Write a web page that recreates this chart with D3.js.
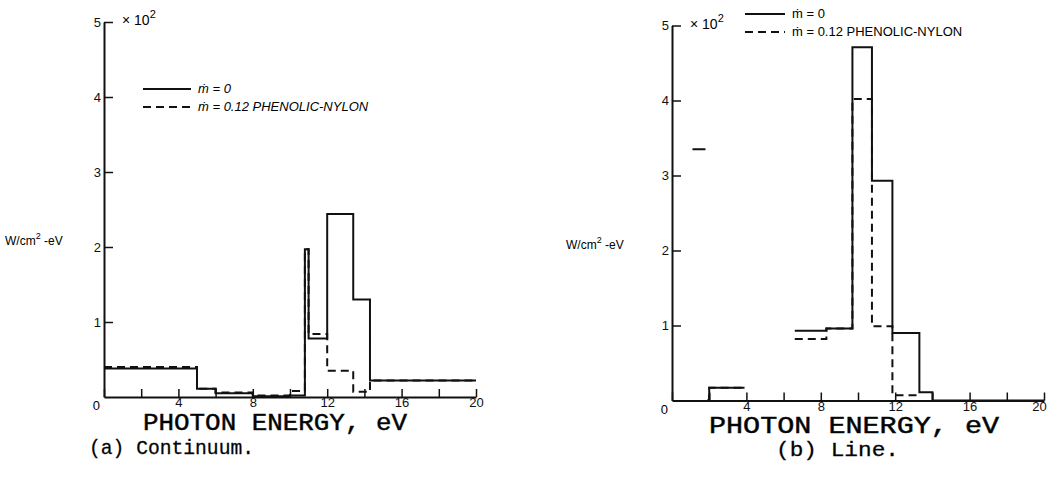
<!DOCTYPE html>
<html>
<head>
<meta charset="utf-8">
<script src="https://cdn.jsdelivr.net/npm/d3@7"></script>
<style>
  body { margin: 0; background: #fff; }
  svg { display: block; }
  .tick text { font-family: "Liberation Sans Narrow", "Liberation Sans", sans-serif; font-size: 13px; fill: #111; }
  .tick line, .domain { stroke: #111; }
</style>
</head>
<body>
<svg id="chart" width="1051" height="482"></svg>
<script>
// panel (a) continuum : bin edges (eV) and values (x 10^2 W/cm2-eV)
var edgesA = [0, 5.0, 6.0, 8.0, 10.0, 10.8, 11.0, 12.0, 13.4, 14.3, 20];
var solidA = [0.38, 0.11, 0.05, 0.01, 0.02, 1.97, 0.78, 2.44, 1.30, 0.22];
var dashA  = [0.40, 0.11, 0.06, 0.02, 0.08, 1.97, 0.84, 0.35, 0.07, 0.22];

// panel (b) line, null = no line drawn
var edgesB = [0, 1.1, 1.8, 1.9, 2.0, 3.9, 6.6, 8.3, 9.7, 10.75, 11.85, 13.3, 14.0, 20];
var solidB = [null, 3.35, null, 0, 0.17, null, 0.93, 0.96, 4.71, 2.93, 0.90, 0.11, 0];
var dashB  = [null, null, null, 0, 0.17, null, 0.82, 0.96, 4.02, 0.99, 0.07, null, null];

var xTicks = [0, 2, 4, 6, 8, 10, 12, 14, 16, 18, 20];
var yTicks = [1, 2, 3, 4, 5];
var legendLabels = ["\u1E41 = 0", "\u1E41 = 0.12 PHENOLIC-NYLON"];

var svg = d3.select("#chart");
var sans = "'Liberation Sans Narrow', 'Liberation Sans', sans-serif";
var mono = "'Courier New', 'Liberation Mono', monospace";

function stepPath(edges, vals, x, y) {
  var p = d3.path();
  for (var i = 0; i < vals.length; i++) {
    if (vals[i] === null) continue;
    if (i === 0 || vals[i - 1] === null) p.moveTo(x(edges[i]), y(vals[i]));
    else p.lineTo(x(edges[i]), y(vals[i]));
    p.lineTo(x(edges[i + 1]), y(vals[i]));
  }
  return p.toString();
}

function drawPanel(opt) {
  var x = d3.scaleLinear().domain([0, 20]).range([opt.x0, opt.x1]);
  var y = d3.scaleLinear().domain([0, 5]).range([opt.y0, opt.y1]);
  var g = svg.append("g");

  // x axis, ticks pointing up
  var xa = g.append("g")
    .attr("transform", "translate(0," + opt.y0 + ")")
    .call(d3.axisBottom(x).tickValues(xTicks).tickSizeInner(-8).tickSizeOuter(0).tickPadding(1)
      .tickFormat(function (d) { return (d > 0 && d % 4 === 0) ? d : ""; }))
    .call(function (a) { a.select(".domain").attr("stroke-width", 2); a.selectAll(".tick line").attr("stroke-width", 1.5); });
  if (opt.lastShift) xa.selectAll(".tick text").filter(function (d) { return d === 20; }).attr("dx", opt.lastShift);

  // y axis, ticks pointing right
  g.append("g")
    .attr("transform", "translate(" + opt.x0 + ",0)")
    .call(d3.axisLeft(y).tickValues(yTicks).tickSizeInner(-9).tickSizeOuter(0).tickPadding(3).tickFormat(d3.format("d")))
    .call(function (a) { a.select(".domain").attr("stroke-width", 2); a.selectAll(".tick line").attr("stroke-width", 1.5); });

  g.append("text").attr("x", opt.x0 - 4).attr("y", opt.y0 + 13)
    .attr("text-anchor", "end")
    .style("font-family", sans).style("font-size", "13px")
    .text("0");

  // x 10^2
  var mult = g.append("text").attr("x", opt.x0 + 18).attr("y", y(5) + 3)
    .style("font-family", sans).style("font-size", "14px");
  mult.append("tspan").text("\u00D7 10");
  mult.append("tspan").attr("dy", -7).style("font-size", "11px").text("2");

  // y label
  var yl = g.append("text").attr("x", opt.labX).attr("y", opt.labY)
    .style("font-family", sans).style("font-size", "12px");
  yl.append("tspan").text("W/cm");
  yl.append("tspan").attr("dy", -6).style("font-size", "9px").text("2");
  yl.append("tspan").attr("dy", 6).text(" -eV");

  // data
  g.append("path").attr("d", stepPath(opt.edges, opt.solid, x, y))
    .attr("fill", "none").attr("stroke", "#111").attr("stroke-width", 2);
  g.append("path").attr("d", stepPath(opt.edges, opt.dash, x, y))
    .attr("fill", "none").attr("stroke", "#111").attr("stroke-width", 2).attr("stroke-dasharray", "8,5");

  // legend
  var lg = g.append("g").attr("transform", "translate(" + opt.legX + "," + opt.legY + ")");
  legendLabels.forEach(function (t, i) {
    lg.append("line").attr("x1", 0).attr("x2", opt.legW).attr("y1", i * 18).attr("y2", i * 18)
      .attr("stroke", "#111").attr("stroke-width", 2).attr("stroke-dasharray", i ? "8,5" : null);
    lg.append("text").attr("x", opt.legW + 7).attr("y", i * 18 + 4)
      .style("font-family", sans).style("font-size", "13px")
      .style("font-style", opt.italic ? "italic" : "normal")
      .text(t);
  });

  // titles
  g.append("text").attr("x", opt.titleX).attr("y", opt.titleY).attr("text-anchor", "middle")
    .style("font-family", mono).style("font-size", "24px")
    .attr("stroke", "#111").attr("stroke-width", 0.5)
    .attr("textLength", opt.titleW).attr("lengthAdjust", "spacingAndGlyphs")
    .text("PHOTON ENERGY, eV");
  g.append("text").attr("x", opt.capX).attr("y", opt.capY)
    .style("font-family", mono).style("font-size", "21px")
    .attr("stroke", "#111").attr("stroke-width", 0.3)
    .attr("textLength", opt.capW).attr("lengthAdjust", "spacingAndGlyphs")
    .text(opt.caption);
}

drawPanel({
  x0: 104, x1: 476, y0: 397, y1: 22,
  edges: edgesA, solid: solidA, dash: dashA,
  labX: 5, labY: 245, legX: 143, legY: 89, legW: 48, italic: true,
  titleX: 275, titleW: 264, titleY: 430,
  capX: 89, capY: 454, capW: 165, caption: "(a) Continuum."
});
drawPanel({
  x0: 672, x1: 1044, y0: 400.5, y1: 25.5,
  edges: edgesB, solid: solidB, dash: dashB,
  labX: 566, labY: 249, legX: 745, legY: 14, legW: 40, italic: false, lastShift: -5,
  titleX: 854, titleW: 290, titleY: 433,
  capX: 776, capY: 456, capW: 123, caption: "(b) Line."
});
</script>
</body>
</html>
